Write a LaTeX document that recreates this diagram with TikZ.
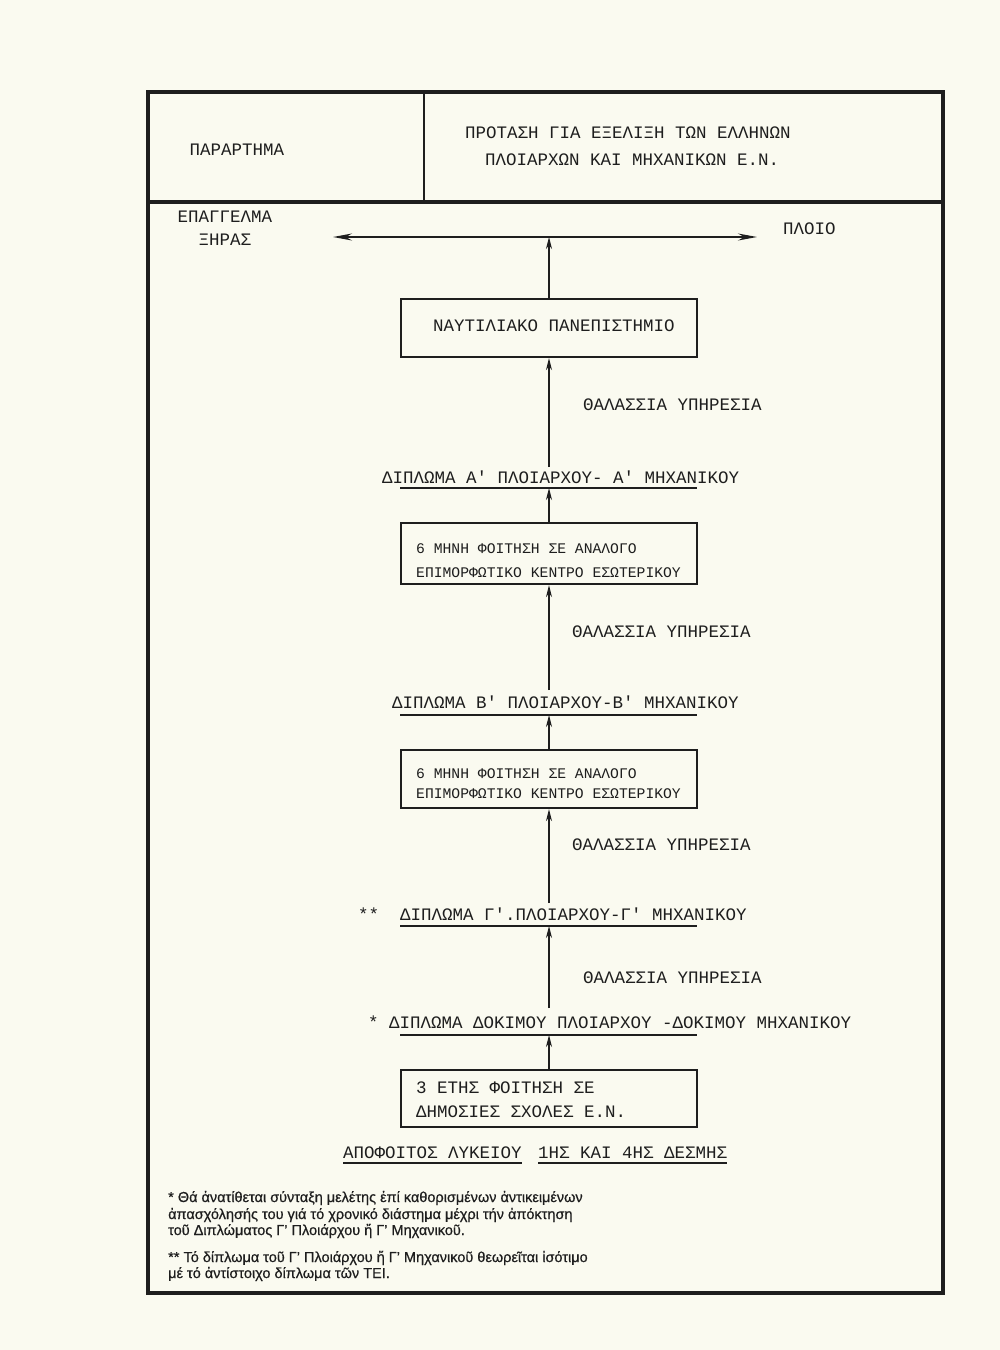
\documentclass[tikz,border=0pt]{standalone}
\usepackage{fontspec}
\usetikzlibrary{arrows.meta}
\newfontfamily\tw{Liberation Mono}
\newfontfamily\fn[FakeBold=0.6]{Liberation Sans}
\definecolor{paper}{RGB}{250,250,240}
\definecolor{ink}{RGB}{30,30,30}
\begin{document}
\begin{tikzpicture}[x=1pt,y=-1pt,
  tw/.style={font=\tw\fontsize{17.5}{20}\selectfont, text=ink, inner sep=0pt, anchor=base west},
  twc/.style={tw, anchor=base},
  twsmall/.style={font=\tw\fontsize{14.7}{17}\selectfont, text=ink, inner sep=0pt, anchor=base west},
  fnote/.style={font=\fn\fontsize{14.5}{17}\selectfont, text=ink, inner sep=0pt, anchor=base west},
  stagebox/.style={draw=ink, line width=2.2pt, minimum width=296pt, inner sep=0pt},
  arr/.style={draw=ink, line width=1.4pt, -{Stealth[length=12pt,width=6pt]}},
  dblarr/.style={draw=ink, line width=1.4pt, {Stealth[length=19pt,width=7pt]}-{Stealth[length=19pt,width=7pt]}},
  uline/.style={draw=ink, line width=1.3pt},
  frameline/.style={draw=ink, line width=3.5pt}]
\fill[paper] (0,0) rectangle (1000,1350);
\useasboundingbox (0,0) rectangle (1000,1350);

% frame
\draw[frameline] (148,92) rectangle (943,1293);
\draw[frameline] (148,202) -- (943,202);
\draw[draw=ink, line width=2pt] (424,92) -- (424,202);

% header
\node[twc] (par) at (237,155) {ΠΑΡΑΡΤΗΜΑ};
\node[tw] (t1) at (465,138) {ΠΡΟΤΑΣΗ ΓΙΑ ΕΞΕΛΙΞΗ ΤΩΝ ΕΛΛΗΝΩΝ};
\node[tw] (t2) at (485,165) {ΠΛΟΙΑΡΧΩΝ ΚΑΙ ΜΗΧΑΝΙΚΩΝ Ε.Ν.};

% top axis
\node[twc] (ep1) at (225,222) {ΕΠΑΓΓΕΛΜΑ};
\node[twc] (ep2) at (225,245) {ΞΗΡΑΣ};
\node[tw] (ploio) at (783,234) {ΠΛΟΙΟ};
\coordinate (L) at (333,237);
\coordinate (R) at (757,237);
\coordinate (top) at (549,237);
\draw[dblarr] (L) -- (R);

% boxes
\node[stagebox, minimum height=58pt] (b1) at (549,328) {};
\node[tw] (b1t) at (433,331) {ΝΑΥΤΙΛΙΑΚΟ ΠΑΝΕΠΙΣΤΗΜΙΟ};

\node[stagebox, minimum height=61pt] (b2) at (549,553.5) {};
\node[twsmall] (b2t1) at (416,553) {6 ΜΗΝΗ ΦΟΙΤΗΣΗ ΣΕ ΑΝΑΛΟΓΟ};
\node[twsmall] (b2t2) at (416,577) {ΕΠΙΜΟΡΦΩΤΙΚΟ ΚΕΝΤΡΟ ΕΣΩΤΕΡΙΚΟΥ};

\node[stagebox, minimum height=58pt] (b3) at (549,779) {};
\node[twsmall] (b3t1) at (416,778) {6 ΜΗΝΗ ΦΟΙΤΗΣΗ ΣΕ ΑΝΑΛΟΓΟ};
\node[twsmall] (b3t2) at (416,798) {ΕΠΙΜΟΡΦΩΤΙΚΟ ΚΕΝΤΡΟ ΕΣΩΤΕΡΙΚΟΥ};

\node[stagebox, minimum height=57pt] (b4) at (549,1098.5) {};
\node[tw] (b4t1) at (416,1093) {3 ΕΤΗΣ ΦΟΙΤΗΣΗ ΣΕ};
\node[tw] (b4t2) at (416,1117) {ΔΗΜΟΣΙΕΣ ΣΧΟΛΕΣ Ε.Ν.};

% diplomas and underlines
\node[tw] (dA) at (382,483) {ΔΙΠΛΩΜΑ Α' ΠΛΟΙΑΡΧΟΥ- Α' ΜΗΧΑΝΙΚΟΥ};
\coordinate (aA) at (549,467);
\coordinate (uA) at (549,488);
\coordinate (uAl) at (400,488);
\coordinate (uAr) at (697,488);
\draw[uline] (uAl) -- (uAr);

\node[tw] (dB) at (392,708) {ΔΙΠΛΩΜΑ Β' ΠΛΟΙΑΡΧΟΥ-Β' ΜΗΧΑΝΙΚΟΥ};
\coordinate (aB) at (549,690);
\coordinate (uB) at (549,715);
\coordinate (uBl) at (400,715);
\coordinate (uBr) at (697,715);
\draw[uline] (uBl) -- (uBr);

\node[tw] (stars2) at (358,920) {**};
\node[tw] (dG) at (400,920) {ΔΙΠΛΩΜΑ Γ'\rlap{.} ΠΛΟΙΑΡΧΟΥ-Γ' ΜΗΧΑΝΙΚΟΥ};
\coordinate (aG) at (549,903);
\coordinate (uG) at (549,926);
\coordinate (uGl) at (400,926);
\coordinate (uGr) at (697,926);
\draw[uline] (uGl) -- (uGr);

\node[tw] (dD) at (368,1028) {* ΔΙΠΛΩΜΑ ΔΟΚΙΜΟΥ ΠΛΟΙΑΡΧΟΥ -ΔΟΚΙΜΟΥ ΜΗΧΑΝΙΚΟΥ};
\coordinate (aD) at (549,1008);
\coordinate (uD) at (549,1035);
\coordinate (uDl) at (400,1035);
\coordinate (uDr) at (697,1035);
\draw[uline] (uDl) -- (uDr);

% service labels
\node[tw] (s1) at (583,410) {ΘΑΛΑΣΣΙΑ ΥΠΗΡΕΣΙΑ};
\node[tw] (s2) at (572,637) {ΘΑΛΑΣΣΙΑ ΥΠΗΡΕΣΙΑ};
\node[tw] (s3) at (572,850) {ΘΑΛΑΣΣΙΑ ΥΠΗΡΕΣΙΑ};
\node[tw] (s4) at (583,983) {ΘΑΛΑΣΣΙΑ ΥΠΗΡΕΣΙΑ};

% arrows
\draw[arr] (b1.north) -- (top);
\draw[arr] (aA) -- (b1.south);
\draw[arr] (b2.north) -- (uA);
\draw[arr] (aB) -- (b2.south);
\draw[arr] (b3.north) -- (uB);
\draw[arr] (aG) -- (b3.south);
\draw[arr] (aD) -- (uG);
\draw[arr] (b4.north) -- (uD);

% graduates
\node[tw] (ap1) at (343,1158) {ΑΠΟΦΟΙΤΟΣ ΛΥΚΕΙΟΥ};
\node[tw] (ap2) at (538,1158) {1ΗΣ ΚΑΙ 4ΗΣ ΔΕΣΜΗΣ};
\draw[uline] ([yshift=-5pt]ap1.base west) -- ([yshift=-5pt]ap1.base east);
\draw[uline] ([yshift=-5pt]ap2.base west) -- ([yshift=-5pt]ap2.base east);

% footnotes
\node[fnote] (f1) at (168,1202) {* Θά ἀνατίθεται σύνταξη μελέτης ἐπί καθορισμένων ἀντικειμένων};
\node[fnote] (f2) at (168,1219) {ἀπασχόλησής του γιά τό χρονικό διάστημα μέχρι τήν ἀπόκτηση};
\node[fnote] (f3) at (168,1235) {τοῦ Διπλώματος Γ’ Πλοιάρχου ἤ Γ’ Μηχανικοῦ.};
\node[fnote] (f4) at (168,1262) {** Τό δίπλωμα τοῦ Γ’ Πλοιάρχου ἤ Γ’ Μηχανικοῦ θεωρεῖται ἰσότιμο};
\node[fnote] (f5) at (168,1278) {μέ τό ἀντίστοιχο δίπλωμα τῶν ΤΕΙ.};
\end{tikzpicture}
\end{document}
